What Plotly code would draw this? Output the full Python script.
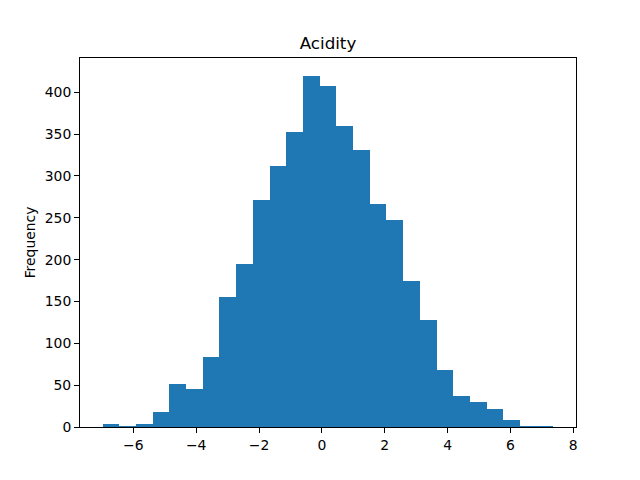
import plotly.graph_objects as go

# Histogram data
bin_start = -6.98
bin_width = 0.5315
counts = [4, 1, 4, 18, 51, 45, 84, 155, 195, 271, 312, 353, 420, 408, 360,
          331, 267, 247, 174, 128, 68, 37, 30, 21, 8, 1, 1]
x_ticks = [-6, -4, -2, 0, 2, 4, 6, 8]
y_ticks = [0, 50, 100, 150, 200, 250, 300, 350, 400]

centers = [bin_start + (i + 0.5) * bin_width for i in range(len(counts))]
bin_end = bin_start + len(counts) * bin_width
span = bin_end - bin_start

fig = go.Figure(go.Bar(
    x=centers, y=counts, width=[bin_width] * len(counts),
    marker=dict(color="#1f77b4", line=dict(width=0)),
    hoverinfo="x+y",
))

font = dict(family="DejaVu Sans", size=13.9, color="black")
axis_common = dict(
    showgrid=False, zeroline=False, showline=True, linecolor="black",
    linewidth=1, mirror=True, ticks="outside", ticklen=5, tickwidth=1,
    tickcolor="black", tickfont=font,
)
fig.update_layout(
    width=640, height=480,
    margin=dict(l=72, r=72, t=50, b=61),
    paper_bgcolor="white", plot_bgcolor="white",
    bargap=0, showlegend=False,
    font=font,
    title=dict(text="Acidity", x=0.5, xref="paper", xanchor="center",
               y=1 - 35 / 480, yref="container", yanchor="middle",
               font=dict(family="DejaVu Sans", size=16.7, color="black")),
    xaxis=dict(range=[bin_start - 0.05 * span, bin_end + 0.05 * span],
               tickvals=x_ticks, ticktext=[str(v).replace("-", "−") for v in x_ticks],
               **axis_common),
    yaxis=dict(range=[0, max(counts) * 1.05], tickvals=y_ticks,
               title=dict(text="Frequency", font=font, standoff=5),
               **axis_common),
)

fig.write_html("out.html")
